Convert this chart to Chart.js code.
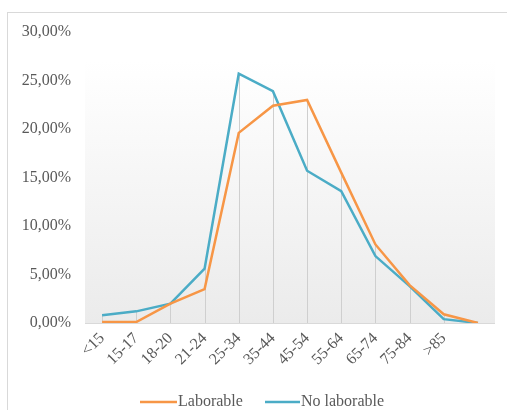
<!DOCTYPE html>
<html>
<head>
<meta charset="utf-8">
<script src="https://cdn.jsdelivr.net/npm/chart.js@4"></script>
<style>
  html, body { margin: 0; padding: 0; background: #fff; }
  #frame { position: absolute; left: 7px; top: 12px; width: 520px; height: 420px; border: 1px solid #d9d9d9; }
  #wrap { position: absolute; left: 0; top: 0; width: 507px; height: 410px; }
</style>
</head>
<body>
<div id="frame"></div>
<div id="wrap"><canvas id="chart" width="507" height="410"></canvas></div>
<script>
// age groups (last slot has no label)
const categories = ['<15', '15-17', '18-20', '21-24', '25-34', '35-44', '45-54', '55-64', '65-74', '75-84', '>85', ''];
const laborable = [0.1, 0.1, 2.0, 3.5, 19.6, 22.4, 23.0, 15.5, 8.1, 3.9, 0.9, 0.0];
const noLaborable = [0.8, 1.2, 2.0, 5.6, 25.7, 23.9, 15.7, 13.6, 6.9, 3.8, 0.4, 0.0];
const yTicks = [0, 5, 10, 15, 20, 25, 30];

const textColor = '#595959';
const serif = "'Liberation Serif', 'Times New Roman', serif";

// plot area gradient + drop lines
const plotDecor = {
  id: 'plotDecor',
  beforeDatasetsDraw(chart) {
    const { ctx, chartArea: a, scales } = chart;
    ctx.save();
    const g = ctx.createLinearGradient(0, a.top, 0, a.bottom);
    g.addColorStop(0, '#ffffff');
    g.addColorStop(0.1, '#ffffff');
    g.addColorStop(1, '#ebebeb');
    ctx.fillStyle = g;
    ctx.fillRect(a.left, a.top, a.right - a.left, a.bottom - a.top);

    // drop lines to the highest series at each category
    ctx.strokeStyle = '#cfcfcf';
    ctx.lineWidth = 1;
    const y0 = scales.y.getPixelForValue(0);
    categories.forEach((c, i) => {
      const top = Math.max(laborable[i], noLaborable[i]);
      const x = Math.round(scales.x.getPixelForValue(i)) + 0.5;
      ctx.beginPath();
      ctx.moveTo(x, y0);
      ctx.lineTo(x, scales.y.getPixelForValue(top));
      ctx.stroke();
    });

    // category axis line
    ctx.strokeStyle = '#d9d9d9';
    ctx.beginPath();
    ctx.moveTo(a.left, Math.round(y0) + 0.5);
    ctx.lineTo(a.right, Math.round(y0) + 0.5);
    ctx.stroke();
    ctx.restore();
  }
};

// legend drawn like the original: long line sample, text right after it
const lineLegend = {
  id: 'lineLegend',
  afterDraw(chart) {
    const { ctx } = chart;
    const items = [
      { ds: 0, x1: 140, x2: 177 },
      { ds: 1, x1: 265, x2: 300 }
    ];
    const y = 402;
    ctx.save();
    ctx.font = '16px ' + serif;
    ctx.textBaseline = 'middle';
    ctx.fillStyle = textColor;
    items.forEach(it => {
      const ds = chart.data.datasets[it.ds];
      ctx.strokeStyle = ds.borderColor;
      ctx.lineWidth = 2.5;
      ctx.beginPath();
      ctx.moveTo(it.x1, y);
      ctx.lineTo(it.x2, y);
      ctx.stroke();
      ctx.fillText(ds.label, it.x2 + 1, y);
    });
    ctx.restore();
  }
};

new Chart(document.getElementById('chart'), {
  type: 'line',
  data: {
    labels: categories,
    datasets: [
      { label: 'Laborable', data: laborable, borderColor: '#f79646', backgroundColor: '#f79646', borderWidth: 2.5, pointRadius: 0, tension: 0 },
      { label: 'No laborable', data: noLaborable, borderColor: '#4bacc6', backgroundColor: '#4bacc6', borderWidth: 2.5, pointRadius: 0, tension: 0 }
    ]
  },
  options: {
    responsive: false,
    animation: false,
    layout: { padding: { left: 0, right: 12, top: 32, bottom: 35 } },
    plugins: {
      tooltip: { enabled: false },
      legend: { display: false }
    },
    scales: {
      x: {
        offset: true,
        grid: { display: false, drawTicks: false },
        border: { display: false },
        ticks: {
          color: textColor,
          font: { family: serif, size: 16 },
          minRotation: 45,
          maxRotation: 45,
          autoSkip: false,
          padding: 6
        },
        afterFit(scale) { scale.height = 52; }
      },
      y: {
        min: 0,
        max: 30,
        afterBuildTicks(scale) { scale.ticks = yTicks.map(v => ({ value: v })); },
        grid: { display: false, drawTicks: false },
        border: { display: false },
        ticks: {
          color: textColor,
          font: { family: serif, size: 16 },
          padding: 14,
          callback: v => v.toFixed(2).replace('.', ',') + '%'
        },
        afterFit(scale) { scale.width = 85; }
      }
    }
  },
  plugins: [plotDecor, lineLegend]
});
</script>
</body>
</html>
